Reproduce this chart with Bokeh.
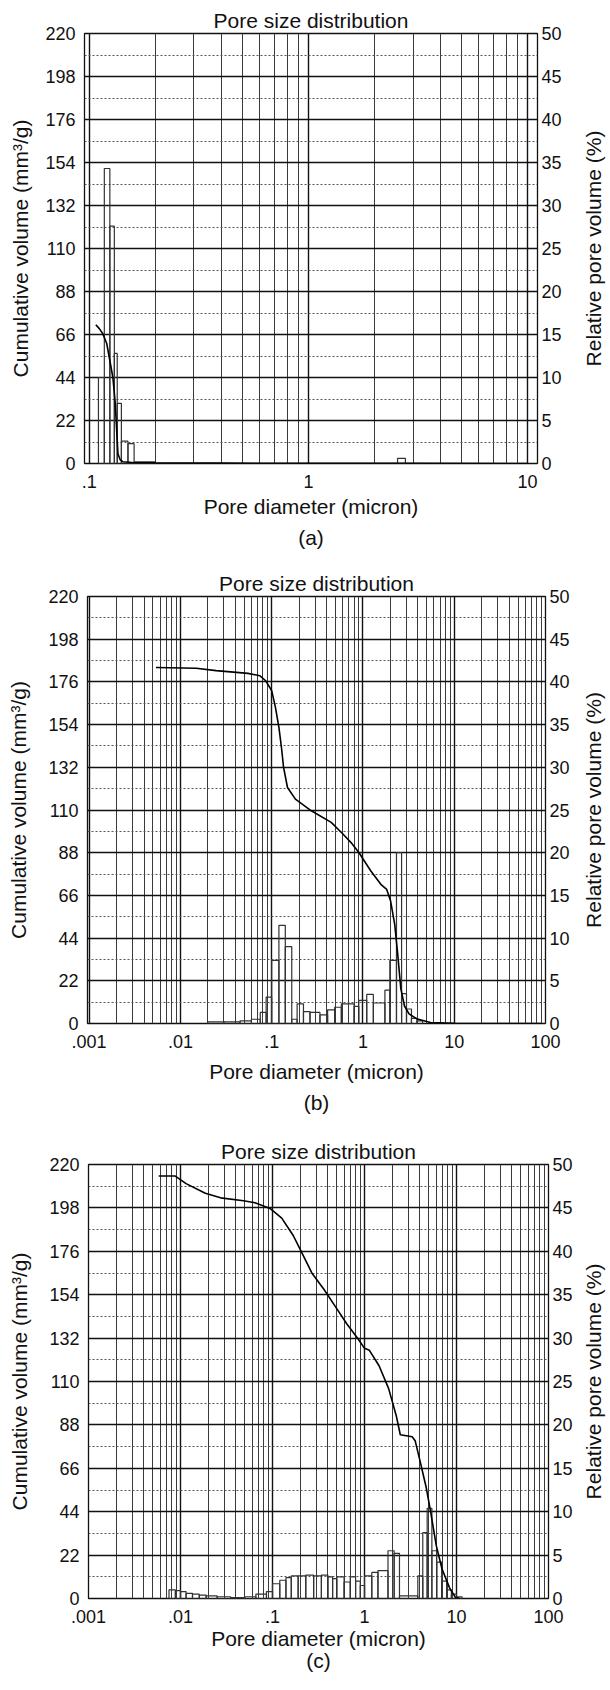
import math
from bokeh.plotting import figure
from bokeh.models import Range1d, LinearAxis, FixedTicker, CustomJSTickFormatter, Title
from bokeh.core.properties import value
from bokeh.layouts import column, row
from bokeh.embed import file_html
from bokeh.resources import INLINE

FONT = "Liberation Sans"

# ---------------- data ----------------
title_text = "Pore size distribution"
x_label = "Pore diameter (micron)"
y_left_label = "Cumulative volume (mm³/g)"
y_right_label = "Relative pore volume (%)"
captions = ["(a)", "(b)", "(c)"]

cum_ticks = [0, 22, 44, 66, 88, 110, 132, 154, 176, 198, 220]
cum_minor = [11, 33, 55, 77, 99, 121, 143, 165, 187, 209]
rel_ticks = [0, 5, 10, 15, 20, 25, 30, 35, 40, 45, 50]

# panel (a)
a_x_ticks = [0.1, 1, 10]
a_curve_d = [0.107, 0.111, 0.115, 0.120, 0.124, 0.128, 0.131, 0.133, 0.135, 0.138,
             0.142, 0.157, 0.20, 0.40, 1.0, 3.0, 10.0]
a_curve_v = [71, 69, 66.5, 61.4, 52.7, 44, 32, 18.4, 5, 2,
             0.9, 0.5, 0.3, 0.2, 0.1, 0.05, 0]
a_bar_lo = [0.110, 0.117, 0.124, 0.130, 0.134, 0.140, 0.150, 0.160, 2.55]
a_bar_hi = [0.117, 0.124, 0.130, 0.134, 0.140, 0.150, 0.160, 0.200, 2.77]
a_bar_rel = [10, 34.3, 27.6, 12.8, 7.0, 2.6, 2.3, 0.2, 0.6]

# panel (b)
b_x_ticks = [0.001, 0.01, 0.1, 1, 10, 100]
b_curve_d = [0.0054, 0.0149, 0.0246, 0.055, 0.074, 0.086, 0.100, 0.110, 0.120, 0.128,
             0.135, 0.149, 0.182, 0.272, 0.449, 0.607, 0.741, 0.906, 1.22, 1.57,
             1.82, 2.01, 2.23, 2.40, 2.60, 2.85, 3.2, 3.86, 5.48, 10, 90]
b_curve_v = [183.4, 183, 181.8, 180.4, 179.2, 176.6, 171.5, 162.9, 152.6, 142.2,
             132, 121.6, 115.6, 109.6, 103.6, 97.5, 93.2, 88, 78.6, 71.7,
             69.1, 63.1, 51, 36, 18, 9, 5, 2.5, 0.5, 0.1, 0]
b_bar_edges = [0.02, 0.03, 0.045, 0.06, 0.075, 0.087, 0.100, 0.120, 0.141, 0.166,
               0.190, 0.223, 0.263, 0.338, 0.41, 0.49, 0.58, 0.80, 0.90, 1.10,
               1.30, 1.74, 1.97, 2.33, 2.65, 3.00, 3.40, 3.90, 4.50]
b_bar_rel = [0.2, 0.2, 0.3, 0.5, 1.3, 3.1, 7.4, 11.5, 9.0, 0.5,
             2.3, 1.4, 1.3, 1.0, 1.6, 1.9, 2.3, 2.0, 2.7, 3.4,
             2.4, 3.9, 7.4, 20.0, 3.5, 1.7, 0.6, 0.3]

# panel (c)
c_x_ticks = [0.001, 0.01, 0.1, 1, 10, 100]
c_curve_d = [0.0058, 0.0087, 0.0115, 0.0186, 0.0273, 0.0484, 0.0645, 0.094, 0.126, 0.168,
             0.203, 0.27, 0.36, 0.479, 0.638, 0.85, 1.0, 1.13, 1.44, 1.83,
             2.21, 2.45, 3.3, 3.55, 4.0, 4.68, 5.22, 6.03, 6.95, 8.41, 9.72, 11.0]
c_curve_v = [214.2, 214.2, 210.3, 205.4, 203.1, 201.6, 200.6, 197.7, 192.8, 184,
             176.3, 164.7, 156.9, 148.2, 139.4, 131.7, 126.8, 125.8, 118, 106.4,
             92.8, 83, 82, 80, 70, 56.4, 44.3, 26.8, 15.1, 5.4, 0.6, 0]
c_bar_edges = [0.0075, 0.0088, 0.0100, 0.0115, 0.0135, 0.016, 0.019, 0.025, 0.035, 0.05,
               0.066, 0.086, 0.100, 0.120, 0.140, 0.160, 0.19, 0.23, 0.28, 0.34,
               0.40, 0.45, 0.50, 0.60, 0.70, 0.80, 0.90, 1.00, 1.20, 1.40,
               1.80, 2.10, 2.40, 3.80, 4.30, 4.80, 5.40, 6.10, 6.90, 7.80,
               8.80, 10.0, 11.5]
c_bar_rel = [1.0, 0.9, 0.8, 0.6, 0.5, 0.4, 0.3, 0.2, 0.1, 0.2,
             0.5, 0.8, 1.7, 2.1, 2.4, 2.6, 2.6, 2.7, 2.6, 2.7,
             2.5, 2.3, 2.5, 1.9, 2.5, 2.0, 1.5, 2.6, 3.0, 3.2,
             5.5, 5.2, 0.3, 2.6, 7.6, 10.4, 5.5, 4.2, 2.0, 1.0,
             0.5, 0.2]

# ------------- helpers -------------
minor_x = [m * 10.0 ** e for e in range(-4, 3) for m in range(2, 10)]

fmt_code = "const s = String(tick); return s.startsWith('0.') ? s.slice(1) : s;"

SIDE_W = 35


def make_panel(xr, x_ticks, curve_d, curve_v, bar_lo, bar_hi, bar_rel, caption,
               frame, border, left_standoff, xlabel_standoff, cap_standoff):
    fw, fh = frame
    bl, br, bt, bb = border
    H = bt + fh + bb
    p = figure(width=bl + fw + br, height=H, x_axis_type="log",
               x_range=Range1d(*xr), y_range=Range1d(0, 220),
               output_backend="svg", toolbar_location=None,
               min_border_left=bl, min_border_right=br,
               min_border_top=bt, min_border_bottom=bb)
    p.extra_y_ranges = {"rel": Range1d(0, 50)}
    p.background_fill_color = "white"
    p.border_fill_color = "white"
    p.outline_line_color = "#111111"
    p.outline_line_width = 1.3

    p.title.text = title_text
    p.title.align = "center"
    p.title.text_font = FONT
    p.title.text_font_size = "21px"
    p.title.text_font_style = "normal"
    p.title.text_color = "#111111"
    p.title.standoff = 4

    xa = p.xaxis[0]
    xa.ticker = FixedTicker(ticks=x_ticks, minor_ticks=minor_x)
    xa.formatter = CustomJSTickFormatter(code=fmt_code)
    xa.axis_label = x_label

    ya = p.yaxis[0]
    ya.ticker = FixedTicker(ticks=cum_ticks, minor_ticks=cum_minor)
    ya.axis_label = y_left_label
    ya.axis_label_standoff = left_standoff

    ra = LinearAxis(y_range_name="rel", ticker=FixedTicker(ticks=rel_ticks))
    p.add_layout(ra, "right")

    for ax in (xa, ya, ra):
        ax.axis_line_color = None
        ax.major_tick_out = 0
        ax.major_tick_in = 0
        ax.minor_tick_out = 0
        ax.minor_tick_in = 0
        ax.major_label_text_font = FONT
        ax.major_label_text_font_size = "18px"
        ax.major_label_text_color = "#111111"
        ax.axis_label_text_font = FONT
        ax.axis_label_text_font_size = "21px"
        ax.axis_label_text_font_style = "normal"
        ax.axis_label_text_color = "#111111"
    xa.major_label_standoff = 11
    xa.axis_label_standoff = xlabel_standoff
    ya.major_label_standoff = 9
    ra.major_label_standoff = 4

    p.xgrid.grid_line_color = "#111111"
    p.xgrid.grid_line_width = 1.4
    p.xgrid.minor_grid_line_color = "#3a3a3a"
    p.xgrid.minor_grid_line_width = 1
    p.ygrid.grid_line_color = "#111111"
    p.ygrid.grid_line_width = 1.4
    p.ygrid.minor_grid_line_color = "#555555"
    p.ygrid.minor_grid_line_dash = "2 2"
    p.ygrid.minor_grid_line_width = 1

    p.quad(left=bar_lo, right=bar_hi, bottom=0, top=bar_rel, y_range_name="rel",
           fill_color=None, line_color="#333333", line_width=1.2)
    p.line(x=curve_d, y=curve_v, line_color="black", line_width=1.6)

    cap = Title(text=caption, align="center", text_font=FONT, text_font_size="21px",
                text_font_style="normal", text_color="#111111", standoff=cap_standoff)
    p.add_layout(cap, "below")

    # narrow companion figure carrying the right-hand axis title (reads bottom to top)
    s = figure(width=SIDE_W, height=H, x_range=Range1d(-1, 1), y_range=Range1d(0, 220),
               output_backend="svg", toolbar_location=None,
               x_axis_location=None, y_axis_location=None,
               min_border_left=0, min_border_right=0,
               min_border_top=bt, min_border_bottom=bb)
    s.outline_line_color = None
    s.background_fill_color = "white"
    s.border_fill_color = "white"
    s.xgrid.visible = False
    s.ygrid.visible = False
    s.text(x=[0], y=[110], text=[y_right_label], angle=math.pi / 2,
           text_align="center", text_baseline="middle",
           text_font=value(FONT), text_font_size="21px", text_color="#111111")
    return row(p, s)


pa = make_panel((0.095, 11.1), a_x_ticks, a_curve_d, a_curve_v, a_bar_lo, a_bar_hi,
                a_bar_rel, captions[0], (453, 430), (84, 38, 33, 95), 10, 4, 7)
pb = make_panel((0.00096, 100), b_x_ticks, b_curve_d, b_curve_v, b_bar_edges[:-1],
                b_bar_edges[1:], b_bar_rel, captions[1], (458, 427), (87, 30, 38, 104), 15, 9, 6)
pc = make_panel((0.001, 100), c_x_ticks, c_curve_d, c_curve_v, c_bar_edges[:-1],
                c_bar_edges[1:], c_bar_rel, captions[2], (461, 434), (88, 26, 37, 91), 15, 1, -12)

layout = column(pa, pb, pc)
open("out.html", "w").write(file_html(layout, INLINE))
